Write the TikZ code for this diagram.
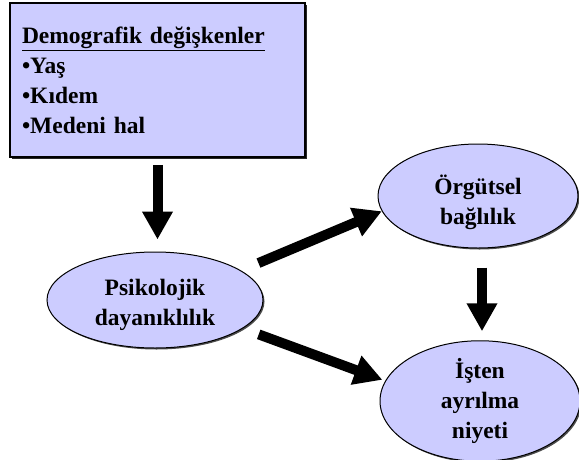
\documentclass[tikz,border=0pt]{standalone}
\usepackage{fontspec}
\setmainfont{Liberation Serif}
\usetikzlibrary{arrows.meta,shapes.geometric,shadows}
\definecolor{lav}{RGB}{204,204,255}
\begin{document}
\begin{tikzpicture}[x=1pt,y=-1pt,
  every node/.style={font=\bfseries\fontsize{23.5}{30}\selectfont},
  bubble/.style={ellipse, draw=black, line width=1pt, fill=lav, inner sep=0pt, align=center,
    drop shadow={shadow xshift=1.5pt, shadow yshift=-1.5pt, fill=black!70, opacity=1}},
  bigarrow/.style={line width=10pt, -{Triangle[width=29pt,length=28pt]}},
]
\useasboundingbox (0,0) rectangle (579,459);
\node[draw, line width=1.5pt, fill=lav, minimum width=295pt, minimum height=154pt,
  inner xsep=12pt, text width=271pt, align=left,
  drop shadow={shadow xshift=2pt, shadow yshift=-2pt, fill=black!85, opacity=1}]
  (box) at (157.5,80) {\underline{Demografik değişkenler}\\•Yaş\\•Kıdem\\•Medeni hal};
\node[bubble, minimum width=216pt, minimum height=96pt] (psy) at (155,300) {\rule{0pt}{27pt}Psikolojik\\dayanıklılık};
\node[bubble, minimum width=200pt, minimum height=104pt] (org) at (478,196) {\rule{0pt}{33pt}Örgütsel\\bağlılık};
\node[bubble, minimum width=200pt, minimum height=114pt] (isten) at (480,401) {İşten\\ayrılma\\niyeti};
\draw[bigarrow, shorten <=7pt, shorten >=12pt] (box.south) -- (box.south |- psy.north);
\draw[bigarrow, shorten <=19pt] (psy.19) -- (org.189);
\draw[bigarrow, shorten <=17pt, shorten >=3pt] (psy.-18) -- (isten.168);
\draw[bigarrow, shorten <=19pt, shorten >=9pt] ([xshift=4pt]org.south) -- ([xshift=4pt]org.south |- isten.north);
\end{tikzpicture}
\end{document}
